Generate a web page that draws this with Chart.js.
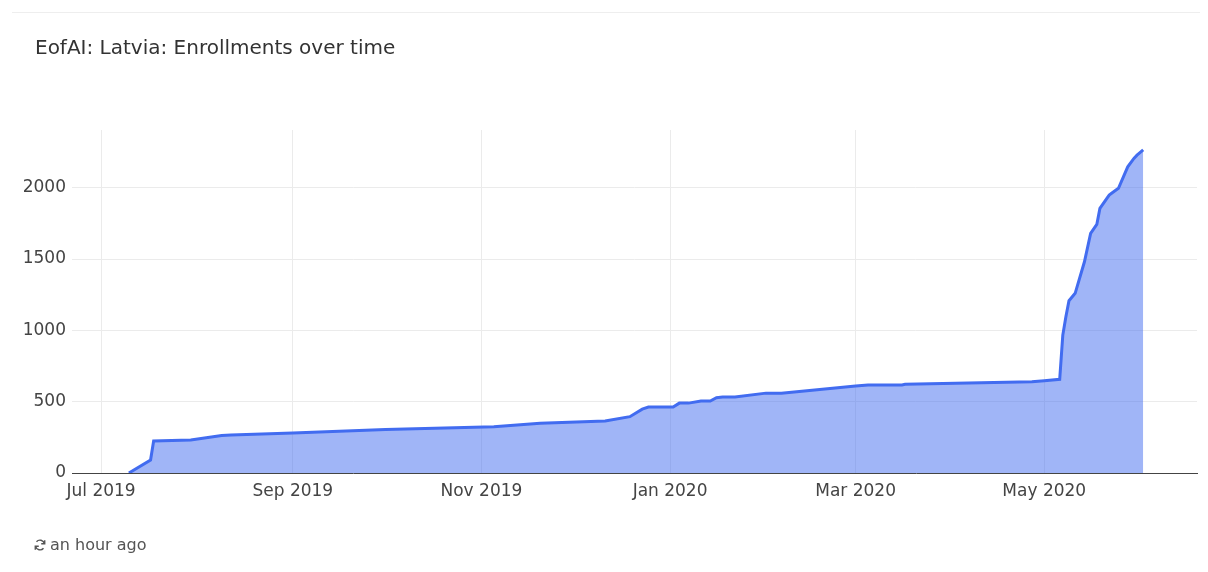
<!DOCTYPE html>
<html>
<head>
<meta charset="utf-8">
<title>EofAI: Latvia: Enrollments over time</title>
<script src="https://cdn.jsdelivr.net/npm/chart.js@4.4.0/dist/chart.umd.min.js"></script>
<style>
  body { margin: 0; background: #fff; font-family: "DejaVu Sans", sans-serif; }
  #wrap { position: relative; width: 1208px; height: 572px; overflow: hidden; }
  #topline { position: absolute; left: 12px; right: 8px; top: 12px; height: 1px; background: #eee; }
  #title { position: absolute; left: 35px; top: 35px; font-size: 20px; color: #333; }
  #chart-box { position: absolute; left: 0; top: 0; width: 1208px; height: 572px; }
  #footer { position: absolute; left: 33px; top: 535px; font-size: 16px; color: #555; display: flex; align-items: center; }
  #footer svg { margin-right: 3px; }
</style>
</head>
<body>
<div id="wrap">
  <div id="topline"></div>
  <div id="chart-box"><canvas id="enroll-chart"></canvas></div>
  <div id="title">EofAI: Latvia: Enrollments over time</div>
  <div id="footer">
    <svg width="14" height="14" viewBox="0 0 16 16" fill="none" stroke="#555" stroke-width="1.6">
      <path d="M13 6.5A5.2 5.2 0 0 0 4 4.2"/><path d="M3 9.5A5.2 5.2 0 0 0 12 11.8"/>
      <path d="M13.4 2.5v4h-4" /><path d="M2.6 13.5v-4h4"/>
    </svg>
    <span>an hour ago</span>
  </div>
</div>
<script>
// Enrollment totals
const dates = [
  '2019-07-10', '2019-07-17', '2019-07-18', '2019-07-30', '2019-08-09', '2019-08-12',
  '2019-09-01', '2019-10-01', '2019-11-05', '2019-11-20', '2019-12-11', '2019-12-19',
  '2019-12-23', '2019-12-25', '2020-01-02', '2020-01-04', '2020-01-07', '2020-01-11',
  '2020-01-14', '2020-01-16', '2020-01-18', '2020-01-22', '2020-02-01', '2020-02-06',
  '2020-03-01', '2020-03-05', '2020-03-16', '2020-03-17', '2020-04-27', '2020-05-01',
  '2020-05-06', '2020-05-07', '2020-05-08', '2020-05-09', '2020-05-11', '2020-05-14',
  '2020-05-16', '2020-05-18', '2020-05-19', '2020-05-22', '2020-05-23', '2020-05-25',
  '2020-05-28', '2020-05-30', '2020-05-31', '2020-06-02'
];
const enrollments = [
  0, 91, 224, 231, 263, 266,
  280, 305, 325, 348, 364, 395,
  448, 462, 462, 490, 490, 505,
  505, 528, 533, 533, 560, 560,
  610, 617, 617, 622, 640, 647,
  657, 967, 1096, 1208, 1260, 1481,
  1680, 1743, 1855, 1949, 1965, 1996,
  2147, 2206, 2229, 2266
];

// Axis ticks
const xTickDates = ['2019-07-01', '2019-09-01', '2019-11-01', '2020-01-01', '2020-03-01', '2020-05-01'];
const xTickLabels = ['Jul 2019', 'Sep 2019', 'Nov 2019', 'Jan 2020', 'Mar 2020', 'May 2020'];
const yTicks = [0, 500, 1000, 1500, 2000];

const startDay = Date.parse('2019-07-01');
function dayOf(s) {
    return (Date.parse(s) - startDay) / 86400000;
}

const points = dates.map((d, i) => ({ x: dayOf(d), y: enrollments[i] }));
const xTickDays = xTickDates.map(dayOf);
const tickFont = { family: '"DejaVu Sans", sans-serif', size: 17 };

function initChart() {
    const ctx = document.getElementById('enroll-chart').getContext('2d');
    new Chart(ctx, {
        type: 'line',
        data: {
            datasets: [{
                data: points,
                borderColor: 'rgb(66, 108, 240)',
                backgroundColor: 'rgba(66, 108, 240, 0.5)',
                borderWidth: 3,
                pointRadius: 0,
                tension: 0,
                fill: 'origin'
            }]
        },
        options: {
            responsive: true,
            maintainAspectRatio: false,
            animation: false,
            layout: { padding: { top: 130, right: 11, left: 0, bottom: 0 } },
            plugins: { legend: { display: false }, tooltip: { enabled: false } },
            scales: {
                x: {
                    type: 'linear',
                    min: -9.4,
                    max: 354.4,
                    afterBuildTicks: scale => { scale.ticks = xTickDays.map(v => ({ value: v })); },
                    afterFit: scale => { scale.height = 99; },
                    grid: { color: '#ebebeb', drawTicks: false },
                    border: { display: true, color: '#444', width: 1 },
                    ticks: {
                        padding: 8,
                        color: '#444',
                        font: tickFont,
                        callback: v => xTickLabels[xTickDays.indexOf(v)] || ''
                    }
                },
                y: {
                    min: 0,
                    max: 2405,
                    afterBuildTicks: scale => { scale.ticks = yTicks.map(v => ({ value: v })); },
                    afterFit: scale => { scale.width = 72; },
                    grid: { color: '#ebebeb', drawTicks: false },
                    border: { display: false },
                    ticks: {
                        padding: 6,
                        color: '#444',
                        font: tickFont,
                        callback: v => String(v)
                    }
                }
            }
        }
    });
}

window.addEventListener('load', initChart);
</script>
</body>
</html>
